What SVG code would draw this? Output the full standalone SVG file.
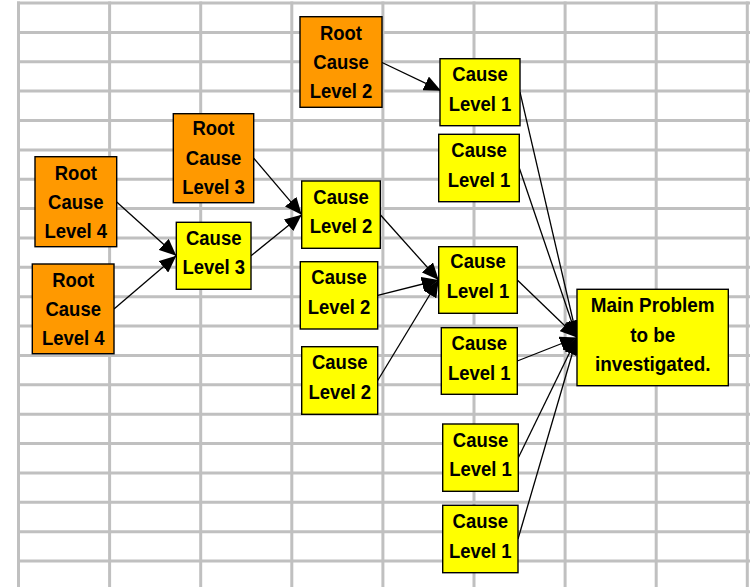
<svg xmlns="http://www.w3.org/2000/svg" width="750" height="587" viewBox="0 0 750 587">
<style>
.grid{stroke:#c0c0c0;stroke-width:3;fill:none}
.or{fill:#ff9900;stroke:#000;stroke-width:1.4}
.ye{fill:#ffff00;stroke:#000;stroke-width:1.4}
.t{font-family:"Liberation Sans",Arial,sans-serif;font-weight:bold;font-size:21px;fill:#000;text-anchor:middle}
.c{stroke:#000;stroke-width:1.3;fill:none;marker-end:url(#ah)}
</style>
<defs>
<marker id="ah" markerUnits="userSpaceOnUse" viewBox="0 0 17 15" refX="17" refY="7.5" markerWidth="17" markerHeight="15" orient="auto">
<path d="M0,0 L17,7.5 L0,15 Z" fill="#000"/>
</marker>
</defs>
<rect width="750" height="587" fill="#fff"/>
<g id="grid">
<path class="grid" d="M17,3H750M17,32.4H750M17,61.7H750M17,91.1H750M17,120.5H750M17,149.9H750M17,179.2H750M17,208.6H750M17,238H750M17,267.3H750M17,296.7H750M17,326.1H750M17,355.4H750M17,384.8H750M17,414.2H750M17,443.6H750M17,472.9H750M17,502.3H750M17,531.7H750M17,561H750"/>
<path class="grid" d="M18.5,1.5V587M109.6,1.5V587M200.7,1.5V587M291.8,1.5V587M382.9,1.5V587M474,1.5V587M565.1,1.5V587M656.2,1.5V587M747.3,1.5V587"/>
</g>
<g id="connectors">
<line class="c" x1="381" y1="62" x2="441" y2="90.7"/>
<line class="c" x1="116.7" y1="202" x2="176.3" y2="255.8"/>
<line class="c" x1="114" y1="309" x2="176.3" y2="255.8"/>
<line class="c" x1="253.7" y1="158.2" x2="301.7" y2="214.7"/>
<line class="c" x1="251" y1="255.8" x2="301.7" y2="214.7"/>
<line class="c" x1="380.3" y1="214.7" x2="438.7" y2="280"/>
<line class="c" x1="377.7" y1="295.3" x2="438.7" y2="280"/>
<line class="c" x1="377.7" y1="380.5" x2="438.7" y2="280"/>
<line class="c" x1="520" y1="92.2" x2="577" y2="337.5"/>
<line class="c" x1="519.3" y1="168" x2="577" y2="337.5"/>
<line class="c" x1="517.3" y1="280" x2="577" y2="337.5"/>
<line class="c" x1="517.3" y1="361" x2="577" y2="337.5"/>
<line class="c" x1="518.3" y1="457.7" x2="577" y2="337.5"/>
<line class="c" x1="518" y1="539" x2="577" y2="337.5"/>
</g>
<g id="rc2">
<rect class="or" x="300" y="16.7" width="82" height="90.6"/>
<text class="t" transform="translate(341 0) scale(0.88 1)"><tspan x="0" y="40">Root</tspan><tspan x="0" y="69.3">Cause</tspan><tspan x="0" y="98.5">Level 2</tspan></text>
</g>
<g id="rc3">
<rect class="or" x="173.3" y="113.7" width="80.4" height="89"/>
<text class="t" transform="translate(213.5 0) scale(0.88 1)"><tspan x="0" y="135.5">Root</tspan><tspan x="0" y="165.5">Cause</tspan><tspan x="0" y="194">Level 3</tspan></text>
</g>
<g id="rc4a">
<rect class="or" x="35" y="156.7" width="81.7" height="90"/>
<text class="t" transform="translate(75.8 0) scale(0.88 1)"><tspan x="0" y="180">Root</tspan><tspan x="0" y="209">Cause</tspan><tspan x="0" y="238">Level 4</tspan></text>
</g>
<g id="rc4b">
<rect class="or" x="32.3" y="264" width="81.7" height="89.7"/>
<text class="t" transform="translate(73.2 0) scale(0.88 1)"><tspan x="0" y="287.3">Root</tspan><tspan x="0" y="316">Cause</tspan><tspan x="0" y="345">Level 4</tspan></text>
</g>
<g id="cl3">
<rect class="ye" x="176.3" y="222.3" width="74.7" height="67"/>
<text class="t" transform="translate(213.7 0) scale(0.88 1)"><tspan x="0" y="245">Cause</tspan><tspan x="0" y="274.3">Level 3</tspan></text>
</g>
<g id="cl2a">
<rect class="ye" x="301.7" y="181" width="78.6" height="67.3"/>
<text class="t" transform="translate(341 0) scale(0.88 1)"><tspan x="0" y="203.7">Cause</tspan><tspan x="0" y="233">Level 2</tspan></text>
</g>
<g id="cl2b">
<rect class="ye" x="300.3" y="261.7" width="77.4" height="67.3"/>
<text class="t" transform="translate(339 0) scale(0.88 1)"><tspan x="0" y="284.3">Cause</tspan><tspan x="0" y="314">Level 2</tspan></text>
</g>
<g id="cl2c">
<rect class="ye" x="301.7" y="346.7" width="76" height="67.6"/>
<text class="t" transform="translate(339.7 0) scale(0.88 1)"><tspan x="0" y="369.5">Cause</tspan><tspan x="0" y="399">Level 2</tspan></text>
</g>
<g id="cl1a">
<rect class="ye" x="440" y="58.7" width="80" height="67"/>
<text class="t" transform="translate(480 0) scale(0.88 1)"><tspan x="0" y="81">Cause</tspan><tspan x="0" y="111">Level 1</tspan></text>
</g>
<g id="cl1b">
<rect class="ye" x="438.7" y="134.3" width="80.6" height="67.4"/>
<text class="t" transform="translate(479 0) scale(0.88 1)"><tspan x="0" y="156.8">Cause</tspan><tspan x="0" y="186.7">Level 1</tspan></text>
</g>
<g id="cl1c">
<rect class="ye" x="438.7" y="246.7" width="78.6" height="66.6"/>
<text class="t" transform="translate(478 0) scale(0.88 1)"><tspan x="0" y="268.5">Cause</tspan><tspan x="0" y="298.3">Level 1</tspan></text>
</g>
<g id="cl1d">
<rect class="ye" x="441.3" y="327.7" width="76" height="66.6"/>
<text class="t" transform="translate(479.3 0) scale(0.88 1)"><tspan x="0" y="350">Cause</tspan><tspan x="0" y="379.7">Level 1</tspan></text>
</g>
<g id="cl1e">
<rect class="ye" x="442.7" y="424" width="75.6" height="67.3"/>
<text class="t" transform="translate(480.5 0) scale(0.88 1)"><tspan x="0" y="446.7">Cause</tspan><tspan x="0" y="476.3">Level 1</tspan></text>
</g>
<g id="cl1f">
<rect class="ye" x="442.7" y="505.3" width="75.3" height="67.4"/>
<text class="t" transform="translate(480.3 0) scale(0.88 1)"><tspan x="0" y="528">Cause</tspan><tspan x="0" y="557.7">Level 1</tspan></text>
</g>
<g id="main">
<rect class="ye" x="577" y="289.3" width="151.3" height="96.4"/>
<text class="t" transform="translate(652.7 0) scale(0.9 1)"><tspan x="0" y="311.7">Main Problem</tspan><tspan x="0" y="341.7">to be</tspan><tspan x="0" y="370.7">investigated.</tspan></text>
</g>
</svg>
